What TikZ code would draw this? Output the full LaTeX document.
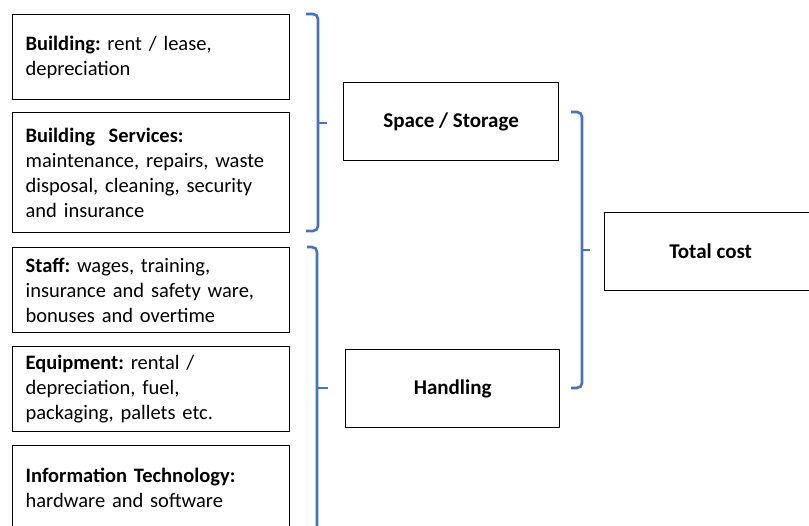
\documentclass[tikz,border=0pt]{standalone}
\usepackage{fontspec}
\setmainfont{Carlito}
\definecolor{braceblue}{HTML}{4472C4}
\begin{document}
\frenchspacing
\begin{tikzpicture}[x=1pt,y=-1pt,
  box/.style={draw=black, line width=1.3pt, inner sep=0pt},
  itembox/.style={box, anchor=north west, text width=251pt, inner xsep=13pt,
    minimum height=85pt, align=left, font=\fontsize{20.5}{25}\selectfont},
  groupbox/.style={box, anchor=north west, minimum height=78pt,
    font=\bfseries\fontsize{21}{25}\selectfont},
  bracket/.style={draw=braceblue, line width=2.6pt, rounded corners=5pt},
  tick/.style={draw=braceblue, line width=2.6pt}]
\useasboundingbox (0,0) rectangle (809,526);
\clip (0,0) rectangle (809,526);

% cost items
\node[itembox] (bld) at (12,14)
  {\textbf{Building:} rent / lease,\\ depreciation};
\node[itembox, minimum height=120pt] (svc) at (12,112)
  {\textbf{Building\ \ Services:}\\ maintenance, repairs, waste\\ disposal, cleaning, security\\ and insurance};
\node[itembox] (staff) at (12,247)
  {\textbf{Staff:} wages, training,\\ insurance and safety ware,\\ bonuses and overtime};
\node[itembox] (equip) at (12,346)
  {\textbf{Equipment:} rental /\\ depreciation, fuel,\\ packaging, pallets etc.};
\node[itembox] (it) at (12,445)
  {\textbf{Information Technology:}\\ hardware and software};

% cost groups
\node[groupbox, minimum width=215pt] (space) at (343,82) {Space / Storage};
\node[groupbox, minimum width=214pt] (handling) at (345,349) {Handling};
\node[groupbox, minimum width=212pt] (total) at (604,212) {Total cost};

% brackets
\coordinate (b1top) at (306,14);
\coordinate (b1mid) at (318,123);
\coordinate (b1bot) at (306,231);
\draw[bracket] (b1top) -| (b1mid) |- (b1bot);
\draw[tick] (b1mid) -- ++(9,0);

\coordinate (b2top) at (307,247);
\coordinate (b2mid) at (317,388);
\coordinate (b2bot) at (307,560);
\draw[bracket] (b2top) -| (b2mid) |- (b2bot);
\draw[tick] (b2mid) -- ++(11,0);

\coordinate (b3top) at (571,112);
\coordinate (b3mid) at (582,250);
\coordinate (b3bot) at (571,388);
\draw[bracket] (b3top) -| (b3mid) |- (b3bot);
\draw[tick] (b3mid) -- ++(8,0);
\end{tikzpicture}
\end{document}
